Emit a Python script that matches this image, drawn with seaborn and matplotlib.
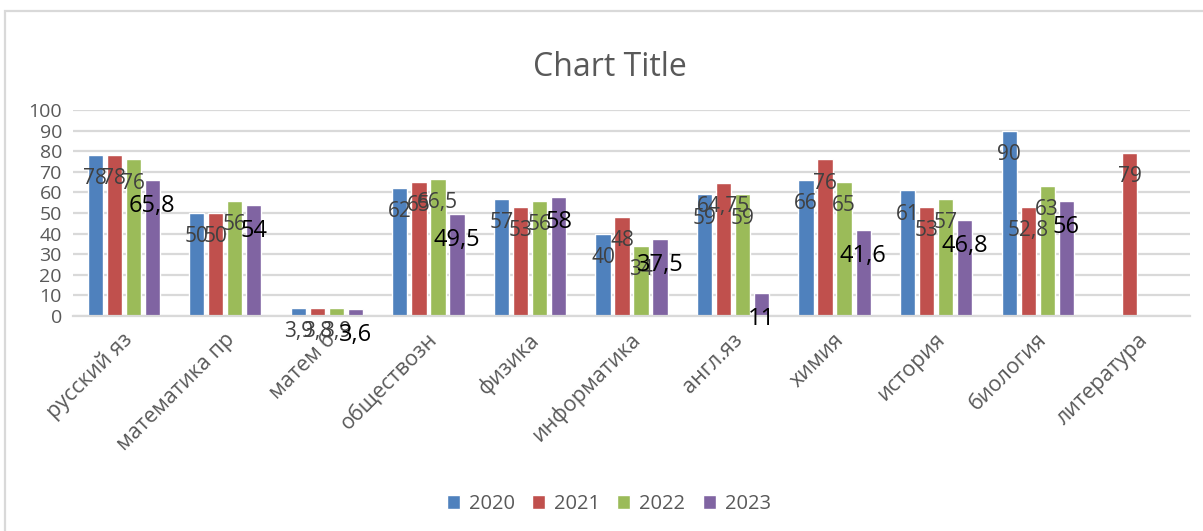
import pandas as pd
import numpy as np
import seaborn as sns
import matplotlib.pyplot as plt
from matplotlib.patches import Rectangle
from matplotlib.transforms import ScaledTranslation

subjects = ['русский яз', 'математика пр', 'матем б', 'обществозн', 'физика',
            'информатика', 'англ.яз', 'химия', 'история', 'биология', 'литература']
years = ['2020', '2021', '2022', '2023']
v2020 = [78, 50, 3.9, 62, 57, 40, 59, 66, 61, 90, np.nan]
v2021 = [78, 50, 3.8, 65, 53, 48, 64.75, 76, 53, 52.8, 79]
v2022 = [76, 56, 3.9, 66.5, 56, 34, 59, 65, 57, 63, np.nan]
v2023 = [65.8, 54, 3.6, 49.5, 58, 37.5, 11, 41.6, 46.8, 56, np.nan]
colors = ['#4F81BD', '#C0504D', '#9BBB59', '#8064A2']

rows = []
for y, vals in zip(years, [v2020, v2021, v2022, v2023]):
    for s, v in zip(subjects, vals):
        rows.append({'subject': s, 'year': y, 'score': v})
df = pd.DataFrame(rows).dropna()

sns.set_style('white')
plt.rcParams['font.family'] = ['Open Sans', 'DejaVu Sans']

fig = plt.figure(figsize=(12.03, 5.31), dpi=100)
ax = fig.add_axes([73 / 1203, 1 - 316 / 531, (1190 - 73) / 1203, 206 / 531])

sns.barplot(data=df, x='subject', y='score', hue='year', order=subjects,
            hue_order=years, palette=colors, width=0.75, gap=0.2,
            saturation=1, ax=ax)

ax.set_ylim(0, 100)
ax.set_yticks(range(0, 101, 10))
ax.set_xlabel('')
ax.set_ylabel('')
ax.grid(axis='y', color='#D9D9D9', lw=1.6)
ax.set_axisbelow(True)
for sp in ['top', 'right', 'left']:
    ax.spines[sp].set_visible(False)
ax.spines['bottom'].set_color('#D9D9D9')
ax.spines['bottom'].set_linewidth(1.6)
ax.tick_params(axis='both', length=0, colors='#595959')
ax.tick_params(axis='y', pad=8, labelsize=14)
ax.tick_params(axis='x', pad=15, labelsize=15.5)
shift = ScaledTranslation(6 / 100, 0, fig.dpi_scale_trans)
for lbl in ax.get_xticklabels():
    lbl.set_rotation(45)
    lbl.set_ha('right')
    lbl.set_va('center')
    lbl.set_rotation_mode('anchor')
    lbl.set_transform(lbl.get_transform() + shift)

# data labels, inside end
for i, cont in enumerate(ax.containers):
    last = i == 3
    for bar in cont:
        h = bar.get_height()
        if np.isnan(h):
            continue
        txt = f'{h:g}'.replace('.', ',')
        ax.annotate(txt, (bar.get_x() + bar.get_width() / 2, h),
                    xytext=(0, -23 if last else -21), textcoords='offset points',
                    ha='center', va='baseline',
                    fontsize=17 if last else 15,
                    color='black' if last else '#404040', annotation_clip=False)

handles, labels = ax.get_legend_handles_labels()
ax.get_legend().remove()
fig.legend(handles, labels, loc='center', bbox_to_anchor=(0.506, 1 - 504 / 531),
           ncol=4, frameon=False, fontsize=14.5, labelcolor='#595959',
           handlelength=0.65, handleheight=0.65, handletextpad=0.45,
           columnspacing=0.85)

fig.text(0.507, 1 - 68 / 531, 'Chart Title', ha='center', va='center',
         fontsize=23, color='#595959')

fig.add_artist(Rectangle((4.5 / 1203, -0.5), 2, 0.5 + 1 - 11 / 531,
                         transform=fig.transFigure, fill=False,
                         edgecolor='#D9D9D9', lw=1.6, clip_on=False))

fig.savefig('out.png', dpi=100)
